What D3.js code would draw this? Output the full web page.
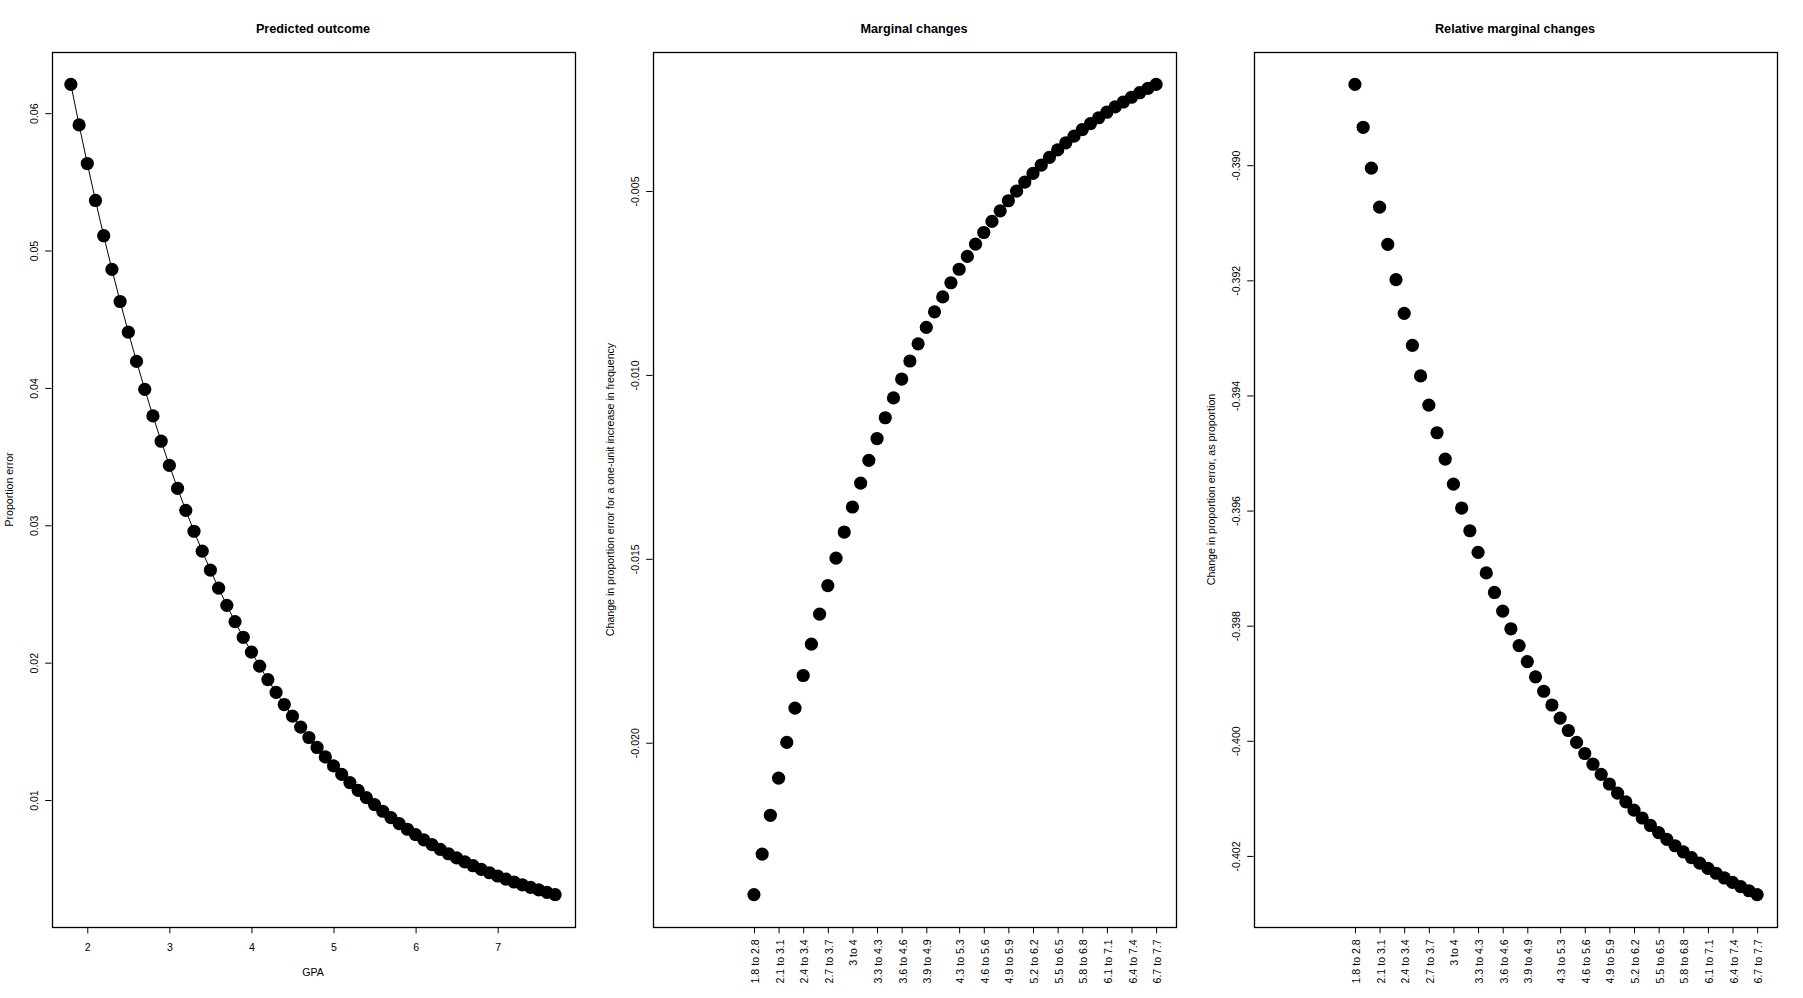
<!DOCTYPE html>
<html>
<head>
<meta charset="utf-8">
<script src="https://cdn.jsdelivr.net/npm/d3@7"></script>
<style>
  body { margin: 0; background: #fff; }
  text { font-family: "Liberation Sans", Arial, sans-serif; fill: #000; }
</style>
</head>
<body>
<div class="item"></div>
<script>
var width = 1803;   // whole picture
var height = 998;

// GPA values, 1.8 to 7.7
var gpa = [1.8,1.9,2.0,2.1,2.2,2.3,2.4,2.5,2.6,2.7,2.8,2.9,3.0,3.1,3.2,3.3,3.4,3.5,3.6,3.7,
           3.8,3.9,4.0,4.1,4.2,4.3,4.4,4.5,4.6,4.7,4.8,4.9,5.0,5.1,5.2,5.3,5.4,5.5,5.6,5.7,
           5.8,5.9,6.0,6.1,6.2,6.3,6.4,6.5,6.6,6.7,6.8,6.9,7.0,7.1,7.2,7.3,7.4,7.5,7.6,7.7];

// predicted proportion error
var predicted = [0.062094,0.059148,0.056334,0.053646,0.051079,0.048628,0.046290,0.044059,0.041930,0.039900,
                 0.037965,0.036120,0.034361,0.032685,0.031088,0.029567,0.028118,0.026738,0.025424,0.024173,
                 0.022982,0.021848,0.020770,0.019743,0.018766,0.017837,0.016953,0.016112,0.015312,0.014551,
                 0.013827,0.013139,0.012485,0.011863,0.011271,0.010709,0.010175,0.0096665,0.0091836,0.0087246,
                 0.0082884,0.0078737,0.0074796,0.0071052,0.0067493,0.0064112,0.0060898,0.0057845,0.0054945,0.0052188,
                 0.0049570,0.0047082,0.0044719,0.0042474,0.0040341,0.0038314,0.0036389,0.0034561,0.0032824,0.0031173];

// upper end of each one-unit step (1.8 to 2.8 ... 6.7 to 7.7)
var stepEnd = [2.8,2.9,3.0,3.1,3.2,3.3,3.4,3.5,3.6,3.7,3.8,3.9,4.0,4.1,4.2,4.3,4.4,4.5,4.6,4.7,
               4.8,4.9,5.0,5.1,5.2,5.3,5.4,5.5,5.6,5.7,5.8,5.9,6.0,6.1,6.2,6.3,6.4,6.5,6.6,6.7,
               6.8,6.9,7.0,7.1,7.2,7.3,7.4,7.5,7.6,7.7];

var marginal = [-0.024129,-0.023028,-0.021973,-0.020961,-0.019991,-0.019061,-0.018172,-0.017321,-0.016506,-0.015727,
                -0.014983,-0.014272,-0.013591,-0.012942,-0.012322,-0.011730,-0.011165,-0.010626,-0.010112,-0.009622,
                -0.009155,-0.008709,-0.008285,-0.007880,-0.007495,-0.007128,-0.006778,-0.006446,-0.006128,-0.005826,
                -0.005539,-0.005265,-0.005005,-0.004758,-0.004522,-0.004298,-0.004085,-0.003882,-0.003689,-0.003506,
                -0.003331,-0.003166,-0.003008,-0.002858,-0.002715,-0.002580,-0.002451,-0.002328,-0.002212,-0.002102];

var relative = [-0.388596,-0.389341,-0.390051,-0.390729,-0.391374,-0.391988,-0.392573,-0.393131,-0.393661,-0.394167,
                -0.394648,-0.395106,-0.395542,-0.395956,-0.396351,-0.396726,-0.397083,-0.397423,-0.397746,-0.398054,
                -0.398346,-0.398624,-0.398888,-0.399139,-0.399378,-0.399605,-0.399821,-0.400026,-0.400221,-0.400407,
                -0.400583,-0.400751,-0.400910,-0.401061,-0.401205,-0.401341,-0.401471,-0.401595,-0.401712,-0.401823,
                -0.401929,-0.402029,-0.402125,-0.402215,-0.402301,-0.402383,-0.402461,-0.402535,-0.402605,-0.402672];

// tick values and labels
var gpaTicks = [2, 3, 4, 5, 6, 7];
var stepTicks = [2.8,3.1,3.4,3.7,4.0,4.3,4.6,4.9,5.3,5.6,5.9,6.2,6.5,6.8,7.1,7.4,7.7];
var stepLabels = ["1.8 to 2.8","2.1 to 3.1","2.4 to 3.4","2.7 to 3.7","3 to 4","3.3 to 4.3",
                  "3.6 to 4.6","3.9 to 4.9","4.3 to 5.3","4.6 to 5.6","4.9 to 5.9","5.2 to 6.2",
                  "5.5 to 6.5","5.8 to 6.8","6.1 to 7.1","6.4 to 7.4","6.7 to 7.7"];
var predTicks = [0.01, 0.02, 0.03, 0.04, 0.05, 0.06];
var predLabels = ["0.01","0.02","0.03","0.04","0.05","0.06"];
var margTicks = [-0.020, -0.015, -0.010, -0.005];
var margLabels = ["-0.020","-0.015","-0.010","-0.005"];
var relTicks = [-0.402, -0.400, -0.398, -0.396, -0.394, -0.392, -0.390];
var relLabels = ["-0.402","-0.400","-0.398","-0.396","-0.394","-0.392","-0.390"];

var svg = d3.select(".item")
    .append("svg")
    .attr("width", width)
    .attr("height", height);

var panelW = 601;
var plotTop = 52, plotBottom = 927;
var padL = 51.5, padR = 26.5;   // R's default margins, 4.1 and 2.1 lines

// R style: data range plus 4% on each side
function rDomain(vals) {
    var e = d3.extent(vals);
    var p = (e[1] - e[0]) * 0.04;
    return [e[0] - p, e[1] + p];
}

function drawPanel(i, opt) {
    var left = i * panelW + padL;
    var right = (i + 1) * panelW - padR;
    var g = svg.append("g");

    var x = d3.scaleLinear().domain(rDomain(opt.xDomainVals)).range([left, right]);
    var y = d3.scaleLinear().domain(rDomain(opt.y)).range([plotBottom, plotTop]);

    // title
    g.append("text")
        .attr("x", (left + right) / 2)
        .attr("y", 32.5)
        .attr("text-anchor", "middle")
        .style("font-weight", "bold")
        .style("font-size", "12.7px")
        .text(opt.title);

    // y axis
    var yAxis = d3.axisLeft(y).tickValues(opt.yTicks)
        .tickFormat(function(d, k) { return opt.yLabels[k]; })
        .tickSize(6.3).tickSizeOuter(0);
    var ya = g.append("g").attr("transform", "translate(" + left + ",0)").call(yAxis);
    ya.select(".domain").remove();
    ya.selectAll("line").attr("stroke", "#000");
    ya.selectAll("text")
        .attr("x", 0).attr("y", 0).attr("dy", null)
        .attr("transform", "translate(-14,0) rotate(-90)")
        .attr("text-anchor", "middle")
        .style("font-size", "10.6px")
        .style("font-family", "'Liberation Sans', Arial, sans-serif");

    // x axis
    var xAxis = d3.axisBottom(x).tickValues(opt.xTicks)
        .tickFormat(function(d, k) { return opt.xLabels[k]; })
        .tickSize(6.3).tickSizeOuter(0);
    var xa = g.append("g").attr("transform", "translate(0," + plotBottom + ")").call(xAxis);
    xa.select(".domain").remove();
    xa.selectAll("line").attr("stroke", "#000");
    var xt = xa.selectAll("text")
        .style("font-size", "10.6px")
        .style("font-family", "'Liberation Sans', Arial, sans-serif");
    if (opt.rotateX) {
        xt.attr("dy", null).attr("y", 0).attr("x", 0)
          .attr("transform", "translate(4.5,12.3) rotate(-90)")
          .attr("text-anchor", "end");
    } else {
        xt.attr("dy", null).attr("y", 23.5);
    }

    // axis titles
    g.append("text")
        .attr("transform", "translate(" + (left - 38.5) + "," + ((plotTop + plotBottom) / 2) + ") rotate(-90)")
        .attr("text-anchor", "middle")
        .style("font-size", "10.6px")
        .text(opt.yTitle);
    if (opt.xTitle) {
        g.append("text")
            .attr("x", (left + right) / 2)
            .attr("y", 976)
            .attr("text-anchor", "middle")
            .style("font-size", "10.6px")
            .text(opt.xTitle);
    }

    // line through the points
    if (opt.line) {
        var line = d3.line()
            .x(function(d, k) { return x(opt.x[k]); })
            .y(function(d) { return y(d); });
        g.append("path")
            .datum(opt.y)
            .attr("d", line)
            .attr("fill", "none")
            .attr("stroke", "#000")
            .attr("stroke-width", 1);
    }

    // points
    g.selectAll("circle")
        .data(opt.y)
        .enter()
        .append("circle")
        .attr("cx", function(d, k) { return x(opt.x[k]); })
        .attr("cy", function(d) { return y(d); })
        .attr("r", 6.6)
        .style("fill", "#000");

    // box
    g.append("rect")
        .attr("x", Math.round(left) + 0.5)
        .attr("y", plotTop + 0.5)
        .attr("width", Math.round(right) - Math.round(left))
        .attr("height", plotBottom - plotTop)
        .attr("fill", "none")
        .attr("stroke", "#000")
        .attr("stroke-width", 1.3);
}

drawPanel(0, {
    title: "Predicted outcome",
    x: gpa, y: predicted, xDomainVals: gpa,
    xTicks: gpaTicks, xLabels: gpaTicks.map(String),
    yTicks: predTicks, yLabels: predLabels,
    yTitle: "Proportion error", xTitle: "GPA",
    line: true, rotateX: false
});

drawPanel(1, {
    title: "Marginal changes",
    x: stepEnd, y: marginal, xDomainVals: gpa,
    xTicks: stepTicks, xLabels: stepLabels,
    yTicks: margTicks, yLabels: margLabels,
    yTitle: "Change in proportion error for a one-unit increase in frequency", xTitle: "",
    line: false, rotateX: true
});

drawPanel(2, {
    title: "Relative marginal changes",
    x: stepEnd, y: relative, xDomainVals: gpa,
    xTicks: stepTicks, xLabels: stepLabels,
    yTicks: relTicks, yLabels: relLabels,
    yTitle: "Change in proportion error, as proportion", xTitle: "",
    line: false, rotateX: true
});
</script>
</body>
</html>
